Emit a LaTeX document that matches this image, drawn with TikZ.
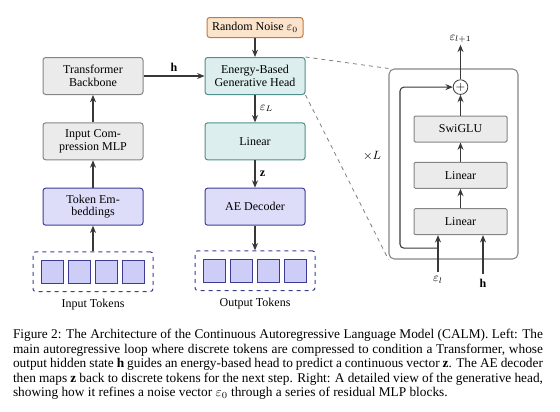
\documentclass[tikz,border=0pt]{standalone}
\usepackage{fontspec}
\setmainfont{Liberation Serif}
\definecolor{linegray}{HTML}{858585}
\definecolor{arrowgray}{HTML}{383838}
\definecolor{tintgray}{HTML}{EBEBEB}
\definecolor{colorteal}{HTML}{4F8F8C}
\definecolor{tintteal}{HTML}{DCEFEE}
\definecolor{colorblue}{HTML}{3C3C96}
\definecolor{tintblue}{HTML}{DDDDFA}
\definecolor{tintblue2}{HTML}{CDCDF7}
\definecolor{colororange}{HTML}{C8783C}
\definecolor{tintorange}{HTML}{FCE4CC}
\usetikzlibrary{arrows.meta,positioning,calc,fit}

\begin{document}
\begin{tikzpicture}[
  x=0.75pt, y=-0.75pt,
  node distance=20.5pt and 45.75pt,
  every node/.style={font=\fontsize{9}{9.3}\selectfont},
  gbox/.style={draw=linegray, line width=0.75pt, rounded corners=2pt, fill=tintgray,
               align=center, minimum width=75pt, minimum height=27.75pt, inner sep=2pt},
  tbox/.style={gbox, draw=colorteal, fill=tintteal},
  bbox/.style={gbox, draw=colorblue, fill=tintblue},
  nbox/.style={gbox, draw=colororange, fill=tintorange, minimum width=72pt,
               minimum height=15pt},
  lbox/.style={gbox, rounded corners=1pt, minimum width=69.75pt, minimum height=19.5pt},
  tok/.style ={draw=colorblue, fill=tintblue2, line width=0.75pt, minimum width=16.5pt,
               minimum height=17pt, inner sep=0pt},
  grp/.style ={draw=colorblue, dashed, line width=0.75pt, rounded corners=2pt, inner sep=6pt},
  panel/.style={draw=linegray, line width=0.8pt, rounded corners=4pt,
               minimum width=96.75pt, minimum height=142.5pt},
  sumc/.style={circle, draw=arrowgray, line width=0.6pt, inner sep=0pt, minimum size=11pt},
  ar/.style  ={-{Stealth[length=5.5pt,width=4.5pt]}, line width=0.8pt, draw=arrowgray},
  zoomln/.style={dashed, draw=gray, line width=0.6pt},
]
  \useasboundingbox (0,0) rectangle (560,411);

  % ---- left column: backbone ----
  \node[gbox] (backbone) at (93,76) {Transformer\\Backbone};
  \node[gbox, below=of backbone] (compress) {Input Com-\\pression MLP};
  \node[bbox, below=of compress] (embed) {Token Em-\\beddings};
  \foreach \i/\dx in {1/-40.5,2/-13.5,3/13.5,4/40.5}
    \node[tok] (in\i) at ($(embed)+(\dx,65)$) {};
  \node[grp, fit=(in1)(in4), label={[label distance=2pt]below:Input Tokens}] (intok) {};

  % ---- middle column: head ----
  \node[tbox, right=of backbone] (head) {Energy-Based\\Generative Head};
  \node[nbox, above=14.25pt of head] (noise) {Random Noise $\varepsilon_0$};
  \node[tbox, below=of head] (lin) {Linear};
  \node[bbox, below=of lin] (dec) {AE Decoder};
  \foreach \i/\dx in {1/-40.5,2/-13.5,3/13.5,4/40.5}
    \node[tok] (out\i) at ($(dec)+(\dx,64)$) {};
  \node[grp, fit=(out1)(out4), label={[label distance=2pt]below:Output Tokens}] (outtok) {};

  % ---- connectors ----
  \draw[ar] (intok) -- (embed);
  \draw[ar] (embed) -- (compress);
  \draw[ar] (compress) -- (backbone);
  \draw[ar] (backbone) -- node[above] {$\mathbf{h}$} (head);
  \draw[ar] (noise) -- (head);
  \draw[ar] (head) -- node[right] {$\varepsilon_L$} (lin);
  \draw[ar] (lin) -- node[right] {$\mathbf{z}$} (dec);
  \draw[ar] (dec) -- (outtok);

  % ---- right panel: residual MLP block ----
  \node[panel] (panel) at (453.5,164) {};
  \node[lbox] (swi) at (460.5,129) {SwiGLU};
  \node[lbox, below=14.5pt of swi] (lin1) {Linear};
  \node[lbox, below=14.5pt of lin1] (lin2) {Linear};
  \node[sumc, above=15.5pt of swi] (add) {$+$};
  \node[above=26pt of add, inner sep=1pt] (eout) {$\varepsilon_{l+1}$};
  \node (ein) at (438,280) {$\varepsilon_l$};
  \node (hin) at (483,283) {$\mathbf{h}$};
  \node (rep) at (372,156) {$\times L$};

  \draw[ar] (ein) -- (ein |- lin2.south);
  \draw[ar] (hin) -- (hin |- lin2.south);
  \draw[ar] (lin2) -- (lin1);
  \draw[ar] (lin1) -- (swi);
  \draw[ar] (swi) -- (add);
  \draw[ar] (add) -- (eout);
  \coordinate (split) at ($(ein |- lin2.south)+(0,13)$);
  \draw[ar, rounded corners=3pt] (split) -- ++(-38,0) |- (add.west);

  % ---- zoom lines ----
  \draw[zoomln] (head.north east) -- (panel.north west);
  \draw[zoomln] (head.south east) -- (panel.south west);

  % ---- caption ----
  \node[anchor=north, text width=397.5pt, align=justify, inner sep=0pt,
        font=\fontsize{10}{10.9}\selectfont] (caption) at (278,329)
    {Figure 2: The Architecture of the Continuous Autoregressive Language Model (CALM). Left: The
     main autoregressive loop where discrete tokens are compressed to condition a Transformer, whose
     output hidden state $\mathbf{h}$ guides an energy-based head to predict a continuous vector
     $\mathbf{z}$. The AE decoder then maps $\mathbf{z}$ back to discrete tokens for the next step.
     Right: A detailed view of the generative head, showing how it refines a noise vector
     $\varepsilon_0$ through a series of residual MLP blocks.};
\end{tikzpicture}
\end{document}
